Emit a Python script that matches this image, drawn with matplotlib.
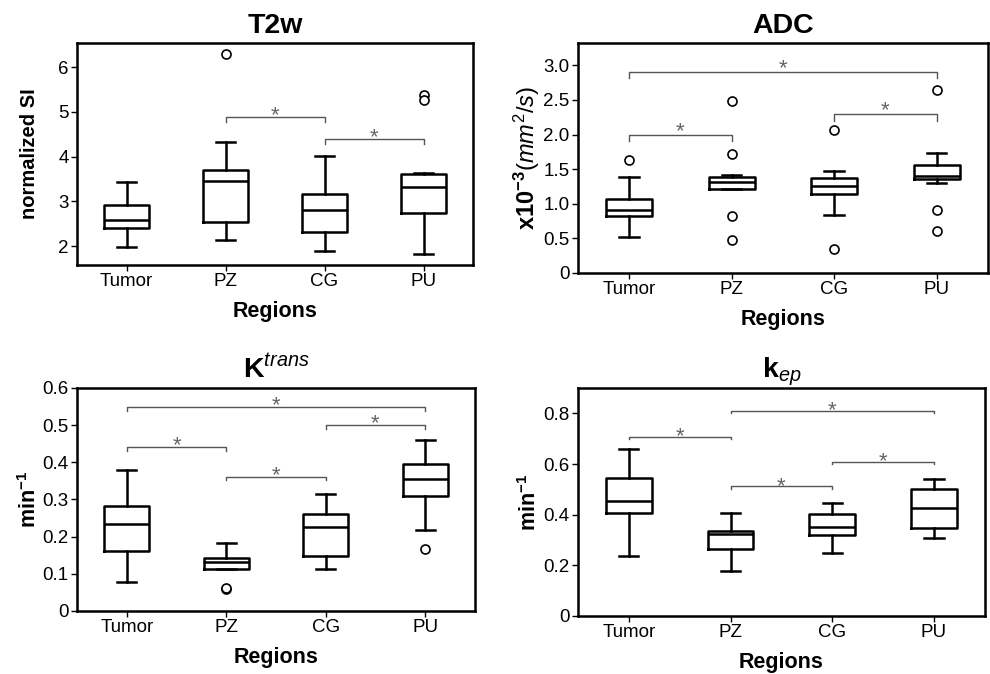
import numpy as np
import matplotlib
matplotlib.use('Agg')
import matplotlib.pyplot as plt

plt.rcParams['font.family'] = 'Liberation Sans'
plt.rcParams['mathtext.fontset'] = 'custom'
plt.rcParams['mathtext.rm'] = 'Liberation Sans'
plt.rcParams['mathtext.it'] = 'Liberation Sans:italic'
plt.rcParams['mathtext.bf'] = 'Liberation Sans:bold'

regions = ['Tumor', 'PZ', 'CG', 'PU']

# T2w (normalized SI)
t2w_lo = [1.99, 2.13, 1.89, 1.83]
t2w_q1 = [2.41, 2.55, 2.31, 2.74]
t2w_med = [2.59, 3.46, 2.81, 3.32]
t2w_q3 = [2.91, 3.70, 3.17, 3.61]
t2w_hi = [3.44, 4.33, 4.02, 3.63]
t2w_out = [[], [6.30], [], [5.39, 5.26]]
t2w_sig = [(2, 3, 4.89), (3, 4, 4.39)]

# ADC (x10^-3 mm^2/s)
adc_lo = [0.515, 1.21, 0.84, 1.30]
adc_q1 = [0.83, 1.22, 1.14, 1.36]
adc_med = [0.905, 1.32, 1.26, 1.40]
adc_q3 = [1.07, 1.39, 1.37, 1.56]
adc_hi = [1.38, 1.41, 1.48, 1.73]
adc_out = [[1.63], [2.49, 1.72, 0.82, 0.48], [2.07, 0.35], [2.65, 0.905, 0.60]]
adc_sig = [(1, 4, 2.91), (1, 2, 2.00), (3, 4, 2.30)]

# Ktrans (min^-1)
ktr_lo = [0.079, 0.113, 0.114, 0.219]
ktr_q1 = [0.162, 0.113, 0.149, 0.308]
ktr_med = [0.234, 0.131, 0.225, 0.354]
ktr_q3 = [0.283, 0.143, 0.261, 0.395]
ktr_hi = [0.380, 0.184, 0.314, 0.461]
ktr_out = [[], [0.060, 0.063], [], [0.167]]
ktr_sig = [(1, 4, 0.549), (3, 4, 0.500), (1, 2, 0.440), (2, 3, 0.361)]

# kep (min^-1)
kep_lo = [0.235, 0.177, 0.248, 0.309]
kep_q1 = [0.408, 0.263, 0.318, 0.347]
kep_med = [0.453, 0.325, 0.351, 0.428]
kep_q3 = [0.545, 0.335, 0.401, 0.500]
kep_hi = [0.661, 0.408, 0.448, 0.543]
kep_out = [[], [], [], []]
kep_sig = [(2, 4, 0.811), (1, 2, 0.708), (3, 4, 0.609), (2, 3, 0.512)]


def make_stats(lo, q1, med, q3, hi, out):
    stats = []
    for i in range(len(regions)):
        stats.append({'whislo': lo[i], 'q1': q1[i], 'med': med[i], 'q3': q3[i],
                      'whishi': hi[i], 'fliers': out[i]})
    return stats


def draw_panel(ax, stats, sig, ylim, yticks, yticklabels, title, ylabel, ylsize, ylx, drop, star_dy):
    lw = 1.8
    ax.bxp(stats, positions=[1, 2, 3, 4], widths=0.45, capwidths=0.19,
           boxprops=dict(color='black', linewidth=lw),
           medianprops=dict(color='black', linewidth=lw),
           whiskerprops=dict(color='black', linewidth=lw),
           capprops=dict(color='black', linewidth=lw),
           flierprops=dict(marker='o', markersize=6.5, markerfacecolor='white',
                           markeredgecolor='black', markeredgewidth=1.2))
    for i, j, y in sig:
        ax.plot([i, i, j, j], [y - drop, y, y, y - drop], color='#555555', linewidth=1.0)
        ax.annotate('*', xy=((i + j) / 2.0, y), xytext=(0, star_dy), textcoords='offset points',
                    ha='center', va='baseline', fontsize=16, color='#666666')
    ax.set_xlim(0.5, 4.5)
    ax.set_ylim(ylim)
    ax.set_xticks([1, 2, 3, 4])
    ax.set_xticklabels(regions, fontsize=13.5)
    ax.set_yticks(yticks)
    ax.set_yticklabels(yticklabels, fontsize=13.5)
    ax.tick_params(axis='both', direction='out', length=4, width=1.0, pad=2)
    for s in ax.spines.values():
        s.set_linewidth(1.8)
    ax.set_xlabel('Regions', fontsize=15.5, fontweight='bold', labelpad=8)
    ax.set_ylabel(ylabel, fontsize=ylsize, fontweight='bold')
    ax.yaxis.set_label_coords(ylx, 0.5)
    ax.set_title(title, fontsize=20.5, fontweight='bold', pad=7)


fig = plt.figure(figsize=(9.9, 6.74), dpi=100)
ax1 = fig.add_axes([0.0778, 0.607, 0.400, 0.329])
ax2 = fig.add_axes([0.5838, 0.595, 0.414, 0.341])
ax3 = fig.add_axes([0.0778, 0.0935, 0.402, 0.331])
ax4 = fig.add_axes([0.5838, 0.0861, 0.411, 0.338])

draw_panel(ax1, make_stats(t2w_lo, t2w_q1, t2w_med, t2w_q3, t2w_hi, t2w_out), t2w_sig,
           (1.58, 6.54), [2, 3, 4, 5, 6], ['2', '3', '4', '5', '6'],
           'T2w', 'normalized SI', 14.5, -0.097, 0.11, -3)
draw_panel(ax2, make_stats(adc_lo, adc_q1, adc_med, adc_q3, adc_hi, adc_out), adc_sig,
           (0, 3.32), [0, 0.5, 1.0, 1.5, 2.0, 2.5, 3.0], ['0', '0.5', '1.0', '1.5', '2.0', '2.5', '3.0'],
           'ADC', r'$\mathbf{x10^{-3}}\mathit{(mm^{2}/s)}$', 17, -0.088, 0.10, -2)
draw_panel(ax3, make_stats(ktr_lo, ktr_q1, ktr_med, ktr_q3, ktr_hi, ktr_out), ktr_sig,
           (0, 0.6), [0, 0.1, 0.2, 0.3, 0.4, 0.5, 0.6], ['0', '0.1', '0.2', '0.3', '0.4', '0.5', '0.6'],
           r'$\mathbf{K}^{\mathit{trans}}$', r'$\mathbf{min^{-1}}$', 15.5, -0.09, 0.01, -3)
draw_panel(ax4, make_stats(kep_lo, kep_q1, kep_med, kep_q3, kep_hi, kep_out), kep_sig,
           (0, 0.9), [0, 0.2, 0.4, 0.6, 0.8], ['0', '0.2', '0.4', '0.6', '0.8'],
           r'$\mathbf{k}_{\mathit{ep}}$', r'$\mathbf{min^{-1}}$', 15.5, -0.09, 0.01, -4)

fig.savefig('out.png', dpi=100)
